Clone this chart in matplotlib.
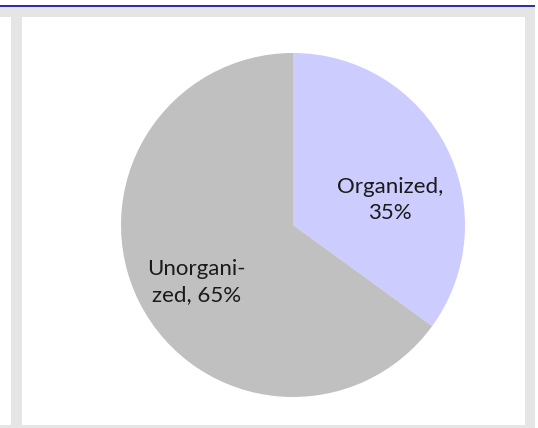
import matplotlib
matplotlib.use("Agg")
import matplotlib.pyplot as plt
from matplotlib.patches import Rectangle
from matplotlib.lines import Line2D

categories = ["Organized", "Unorganized"]
values = [35, 65]
labels = ["Organized,\n35%", "Unorgani-\nzed, 65%"]
colors = ["#ccccff", "#c0c0c0"]

W, H = 538, 428
fig = plt.figure(figsize=(W / 100, H / 100), dpi=100)
fig.patch.set_facecolor("white")

def rect(x0, y0, x1, y1, color):
    fig.patches.append(Rectangle((x0 / W, 1 - y1 / H), (x1 - x0) / W, (y1 - y0) / H,
                                 transform=fig.transFigure, facecolor=color,
                                 edgecolor="none", zorder=-5))

rect(0, 7, 535, 428, "#e5e5e5")
rect(0, 17, 11, 425, "white")
rect(22, 17, 525, 425, "white")
rect(535, 7, 538, 428, "white")
fig.lines.append(Line2D([0, 534 / W], [1 - 6 / H, 1 - 6 / H], transform=fig.transFigure,
                        color="#2b2ba0", linewidth=1.4, zorder=-4))

cx, cy, r = 293, 225, 172
ax = fig.add_axes([(cx - r) / W, 1 - (cy + r) / H, 2 * r / W, 2 * r / H])
ax.set_zorder(5)
ax.pie(values, colors=colors, startangle=90, counterclock=False,
       wedgeprops=dict(linewidth=0))
ax.set_xlim(-1, 1)
ax.set_ylim(-1, 1)
ax.set_aspect("equal")
ax.axis("off")

label_pos = [(0.565, 0.145), (-0.56, -0.33)]
for (x, y), t in zip(label_pos, labels):
    ax.text(x, y, t, ha="center", va="center", fontsize=16, color="#1a1a1a",
            family="Lato", linespacing=1.4)

fig.savefig("out.png", dpi=100)
